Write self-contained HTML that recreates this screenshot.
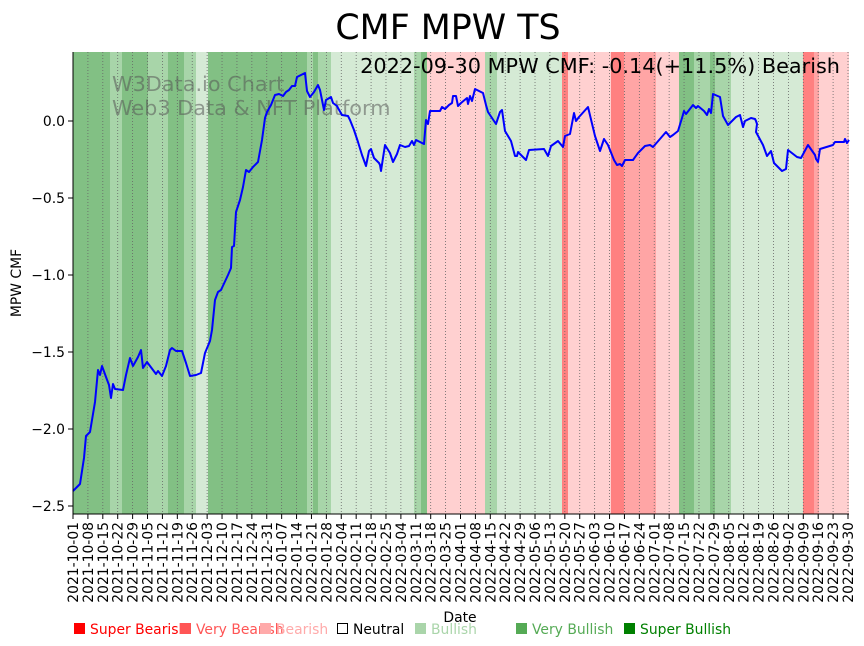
<!DOCTYPE html>
<html><head><meta charset="utf-8"><style>
html,body{margin:0;padding:0;background:#fff;}
svg{display:block;font-family:"DejaVu Sans","Liberation Sans",sans-serif;}
</style></head><body>
<svg id="s" width="864" height="646" viewBox="0 0 864 646" xmlns="http://www.w3.org/2000/svg">
<g id="bands">
<rect x="73" y="52" width="37" height="462" fill="#82c084"/>
<rect x="110" y="52" width="12" height="462" fill="#a8d5a9"/>
<rect x="122" y="52" width="26" height="462" fill="#82c084"/>
<rect x="148" y="52" width="20" height="462" fill="#a8d5a9"/>
<rect x="168" y="52" width="16" height="462" fill="#82c084"/>
<rect x="184" y="52" width="12" height="462" fill="#a8d5a9"/>
<rect x="196" y="52" width="12" height="462" fill="#d5ead5"/>
<rect x="208" y="52" width="99" height="462" fill="#82c084"/>
<rect x="307" y="52" width="6" height="462" fill="#a8d5a9"/>
<rect x="313" y="52" width="5" height="462" fill="#82c084"/>
<rect x="318" y="52" width="13" height="462" fill="#a8d5a9"/>
<rect x="331" y="52" width="83" height="462" fill="#d5ead5"/>
<rect x="414" y="52" width="7" height="462" fill="#a8d5a9"/>
<rect x="421" y="52" width="6" height="462" fill="#82c084"/>
<rect x="427" y="52" width="58" height="462" fill="#ffd0d0"/>
<rect x="485" y="52" width="12" height="462" fill="#a8d5a9"/>
<rect x="497" y="52" width="65" height="462" fill="#d5ead5"/>
<rect x="562" y="52" width="6" height="462" fill="#ff8080"/>
<rect x="568" y="52" width="43" height="462" fill="#ffd0d0"/>
<rect x="611" y="52" width="13" height="462" fill="#ff8080"/>
<rect x="624" y="52" width="32" height="462" fill="#ffa5a5"/>
<rect x="656" y="52" width="23" height="462" fill="#ffd0d0"/>
<rect x="679" y="52" width="15" height="462" fill="#82c084"/>
<rect x="694" y="52" width="16" height="462" fill="#a8d5a9"/>
<rect x="710" y="52" width="5" height="462" fill="#82c084"/>
<rect x="715" y="52" width="16" height="462" fill="#a8d5a9"/>
<rect x="731" y="52" width="72" height="462" fill="#d5ead5"/>
<rect x="803" y="52" width="11" height="462" fill="#ff8080"/>
<rect x="814" y="52" width="5" height="462" fill="#ffa5a5"/>
<rect x="819" y="52" width="30" height="462" fill="#ffd0d0"/>
</g>
<g id="grid"></g>
<text x="112" y="91" font-size="20.8" fill="#555" fill-opacity="0.55">W3Data.io Chart</text>
<text x="112" y="115" font-size="20.8" fill="#555" fill-opacity="0.55">Web3 Data &amp; NFT Platform</text>
<polyline fill="none" stroke="#0000ff" stroke-width="2" stroke-linejoin="round" points="73,491 80,484 84,458 86,436 90,432 95,402 98,370 100,375 102,366 106,377 109,385 111,398 113,384 115,389 123,390 126,375 130,358 133,366 138,357 141,350 143,368 147,362 153,370 156,374 158,371 162,376 166,366 170,350 172,348 176,351 182,351 186,363 190,376 196,375 201,373 205,353 210,341 212,330 215,300 218,292 221,290 228,275 231,268 232,247 234,246 236,212 240,200 243,187 246,170 249,172 253,167 258,162 262,140 265,118 267,112 271,105 275,95 279,94 283,96 286,92 289,90 292,86 295,86 297,77 301,75 305,73 307,91 310,97 314,92 318,85 320,90 324,110 326,100 331,97 333,103 337,106 338,108 342,115 348,116 350,120 354,130 358,142 362,155 366,166 369,151 371,149 374,158 379,163 380,165 381,171 385,145 390,153 393,162 397,154 400,145 405,147 409,146 412,141 414,145 416,140 420,142 424,144 426,120 428,124 430,111 440,111 442,107 445,109 449,105 452,103 453,96 456,96 458,106 461,103 467,98 468,104 470,96 472,101 475,89 483,93 486,105 488,112 496,124 500,112 502,110 505,131 511,141 515,156 517,156 518,152 526,160 529,150 544,149 548,156 551,146 558,141 563,147 565,136 570,134 574,113 576,121 579,117 588,107 595,136 600,151 604,139 608,145 614,160 617,165 620,164 622,166 625,160 633,160 638,153 645,146 650,145 653,147 666,132 670,137 673,135 678,131 682,118 684,111 686,114 693,105 696,108 698,106 704,111 707,115 709,109 711,113 713,94 720,97 723,116 728,125 736,117 740,115 743,127 745,121 751,118 755,119 756,121 757,124 756,132 763,145 767,156 771,151 774,163 782,171 786,169 788,150 797,157 801,158 808,145 815,155 816,159 818,162 820,149 833,145 835,142 844,142 845,139 847,143 849,140"/>
<line x1="73" y1="52" x2="73" y2="514" stroke="#000" stroke-width="1"/>
<line x1="73" y1="514" x2="849" y2="514" stroke="#000" stroke-width="1"/>
<g id="yt" font-size="13.9" text-anchor="end">
<line x1="68" y1="121" x2="73" y2="121" stroke="#000"/><text x="65" y="126">0.0</text>
<line x1="68" y1="198" x2="73" y2="198" stroke="#000"/><text x="65" y="203">−0.5</text>
<line x1="68" y1="275" x2="73" y2="275" stroke="#000"/><text x="65" y="280">−1.0</text>
<line x1="68" y1="352" x2="73" y2="352" stroke="#000"/><text x="65" y="357">−1.5</text>
<line x1="68" y1="429" x2="73" y2="429" stroke="#000"/><text x="65" y="434">−2.0</text>
<line x1="68" y1="506" x2="73" y2="506" stroke="#000"/><text x="65" y="511">−2.5</text>
</g>
<g id="xt" font-size="13.9"></g>
<text x="448" y="39" font-size="34.8" text-anchor="middle">CMF MPW TS</text>
<text x="840" y="73" font-size="20.8" text-anchor="end">2022-09-30 MPW CMF: -0.14(+11.5%) Bearish</text>
<text transform="translate(21,283) rotate(-90)" font-size="13.9" text-anchor="middle">MPW CMF</text>
<text x="460" y="622" font-size="13.9" text-anchor="middle">Date</text>
<g font-size="13.9">
<rect x="74" y="623" width="11" height="11" fill="#ff0000"/><text x="90" y="634" fill="#ff0000">Super Bearish</text>
<rect x="180" y="623" width="11" height="11" fill="#ff5555"/><text x="196" y="634" fill="#ff5555">Very Bearish</text>
<rect x="260" y="623" width="11" height="11" fill="#ffaaaa"/><text x="276" y="634" fill="#ffaaaa">Bearish</text>
<rect x="337.5" y="623.5" width="10" height="10" fill="none" stroke="#000"/><text x="353" y="634" fill="#000">Neutral</text>
<rect x="415" y="623" width="11" height="11" fill="#aad5aa"/><text x="431" y="634" fill="#aad5aa">Bullish</text>
<rect x="516" y="623" width="11" height="11" fill="#55aa55"/><text x="532" y="634" fill="#55aa55">Very Bullish</text>
<rect x="624" y="623" width="11" height="11" fill="#008000"/><text x="640" y="634" fill="#008000">Super Bullish</text>
</g>
</svg>
<script>
(function(){
var ns="http://www.w3.org/2000/svg";
var g=document.getElementById("grid"),xt=document.getElementById("xt");
var start=Date.UTC(2021,9,1);
for(var i=0;i<53;i++){
 var x=73+i*(775/52);
 var d=new Date(start+i*7*86400000);
 var s=d.toISOString().slice(0,10);
 var l=document.createElementNS(ns,"line");
 l.setAttribute("x1",x);l.setAttribute("x2",x);l.setAttribute("y1",52);l.setAttribute("y2",514);
 l.setAttribute("stroke","#666");l.setAttribute("stroke-width","0.8");l.setAttribute("stroke-dasharray","1,2");
 g.appendChild(l);
 var t=document.createElementNS(ns,"line");
 t.setAttribute("x1",x);t.setAttribute("x2",x);t.setAttribute("y1",514);t.setAttribute("y2",519);t.setAttribute("stroke","#000");
 xt.appendChild(t);
 var tx=document.createElementNS(ns,"text");
 tx.setAttribute("transform","translate("+(x+5)+",522) rotate(-90)");
 tx.setAttribute("text-anchor","end");
 tx.textContent=s;
 xt.appendChild(tx);
}
})();
</script>
</body></html>
